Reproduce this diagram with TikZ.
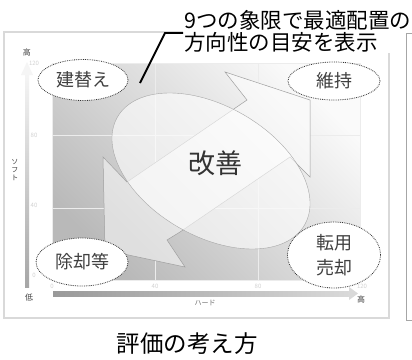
\documentclass[tikz,border=0pt]{standalone}
\usepackage{fontspec}
\setmainfont{Noto Sans CJK JP}
\usetikzlibrary{shapes.geometric}

\begin{document}
\begin{tikzpicture}[
	x=1pt, y=-1pt,
	quad/.style={ellipse, draw=black!80, densely dotted, thick, fill=white, inner sep=0pt, text=black!75, font=\fontsize{18}{25}\selectfont, align=center},
	tick/.style={inner sep=0pt, text=gray!35, font=\fontsize{6}{6}\selectfont},
	axislabel/.style={inner sep=0pt, text=black!75, font=\fontsize{8}{8}\selectfont},
	band/.style={draw=gray!75, line width=0.5pt, top color=gray!5, bottom color=gray!25, shading angle=-45},
	grid line/.style={white!85!gray, line width=0.6pt}
	]
	\useasboundingbox (0,0) rectangle (412,359);
	\fill[white] (0,0) rectangle (412,359);
	
	% Frame
	\draw[gray!30, line width=1.2pt] (4,32) rectangle (389,318);
	
	% Plot area
	\shade[top color=gray!4, bottom color=gray!55, shading angle=-45] (52,63) rectangle (360,280);
	\foreach \x in {155,258}
		\draw[grid line] (\x,63) -- (\x,280);
	\foreach \y in {135,208}
		\draw[grid line] (52,\y) -- (360,\y);
	\draw[grid line] (52,63) rectangle (360,280);
	
	% Cycle band
	\draw[band] (225,72) -- (310,100) -- (310,177) -- (290,157) -- (180,232) -- (167,240)
		-- (185,267) -- (105,250) -- (103,157) -- (127,182) -- (247,100) -- cycle;
	\node[ellipse, draw=gray!70, fill=white, fill opacity=0.6, minimum width=216, minimum height=130, rotate=-30] (disc) at (211,171) {};
	\node[text=black!80, font=\fontsize{27}{27}\selectfont] (kaizen) at (215,163) {改善};
	
	% Axes
	\shade[bottom color=gray!70, top color=gray!8] (25,287) rectangle (29,74);
	\fill[gray!8] (21,75) -- (33,75) -- (27,62) -- cycle;
	\shade[left color=gray!80, right color=gray!30] (53,291) rectangle (349,296);
	\fill[gray!30] (349,287) -- (358,293.5) -- (349,300) -- cycle;
	
	% Ticks
	\foreach \v/\x in {0/52,40/155,80/258,120/362}
		\node[tick] (tx\v) at (\x,286) {\v};
	\foreach \v/\y in {0/275,40/205,80/135,120/63}
		\node[tick] (ty\v) at (34,\y) {\v};
	
	% Axis labels
	\node[axislabel] (high) at (27,52) {高};
	\node[axislabel] (low) at (29,297) {低};
	\node[axislabel] (highx) at (361,299) {高};
	\node[axislabel, align=center, font=\fontsize{7}{8}\selectfont] (soft) at (15,170) {ソ\\フ\\ト};
	\node[axislabel, text=black!55, font=\fontsize{7}{7}\selectfont] (hard) at (205,303) {ハード};
	
	% Quadrant labels
	\node[quad, minimum width=90, minimum height=41] (rebuild) at (83,80) {建替え};
	\node[quad, minimum width=92, minimum height=38] (keep) at (334,81) {維持};
	\node[quad, minimum width=92, minimum height=48] (remove) at (82,262) {除却等};
	\node[quad, minimum width=93, minimum height=66] (convert) at (334,255) {転用\\売却};
	
	% Title and leader
	\node[fill=white, inner sep=1pt, align=left, anchor=west, font=\fontsize{21.5}{22}\selectfont] (title) at (183,31) {9つの象限で最適配置の\\方向性の目安を表示};
	\coordinate (lead) at (140,83);
	\draw[line width=1.8pt] (lead) -- (165,33) -- (183,33);
	
	% Next panel
	\draw[gray!70, line width=0.8pt] (412,33) -- (406,33) -- (406,320) -- (412,320);
	
	% Caption
	\node[font=\fontsize{23.5}{24}\selectfont] (caption) at (187,344) {評価の考え方};
	
\end{tikzpicture}
\end{document}
